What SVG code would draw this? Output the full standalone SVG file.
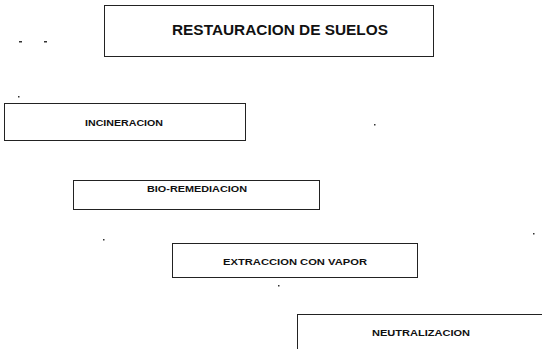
<svg xmlns="http://www.w3.org/2000/svg" width="542" height="349" viewBox="0 0 542 349">
<style>
.box{fill:#fff;stroke:#222;stroke-width:1}
.t{font-family:"Liberation Sans",Arial,sans-serif;font-weight:bold;fill:#111;text-anchor:middle}
.s{font-size:8.5px}
.dot{fill:#333}
</style>
<rect width="542" height="349" fill="#fff"/>
<g id="restauracion">
<rect class="box" x="104.5" y="5.5" width="329" height="51"/>
<text class="t" x="280" y="35" font-size="14" textLength="216" lengthAdjust="spacingAndGlyphs">RESTAURACION DE SUELOS</text>
</g>
<g id="incineracion">
<rect class="box" x="4.5" y="103.5" width="241" height="37"/>
<text class="t s" x="124" y="126" textLength="78" lengthAdjust="spacingAndGlyphs">INCINERACION</text>
</g>
<g id="bioremediacion">
<rect class="box" x="73.5" y="180.5" width="246" height="29"/>
<text class="t s" x="197" y="192" textLength="100" lengthAdjust="spacingAndGlyphs">BIO-REMEDIACION</text>
</g>
<g id="extraccion">
<rect class="box" x="172.5" y="243.5" width="245" height="34"/>
<text class="t s" x="295" y="265" textLength="144" lengthAdjust="spacingAndGlyphs">EXTRACCION CON VAPOR</text>
</g>
<g id="neutralizacion">
<rect class="box" x="297.5" y="314.5" width="260" height="50"/>
<text class="t s" x="421" y="335.5" textLength="98" lengthAdjust="spacingAndGlyphs">NEUTRALIZACION</text>
</g>
<g id="connectors"></g>
<g id="marks">
<rect class="dot" x="19" y="41" width="3" height="1.5"/>
<rect class="dot" x="44" y="41" width="3" height="1.5"/>
<rect class="dot" x="18" y="96" width="1.5" height="1.5"/>
<rect class="dot" x="374" y="124" width="1.5" height="1.5"/>
<rect class="dot" x="103" y="239" width="1.5" height="1.5"/>
<rect class="dot" x="533" y="233" width="1.5" height="1.5"/>
<rect class="dot" x="278" y="285" width="1.5" height="1.5"/>
</g>
</svg>
